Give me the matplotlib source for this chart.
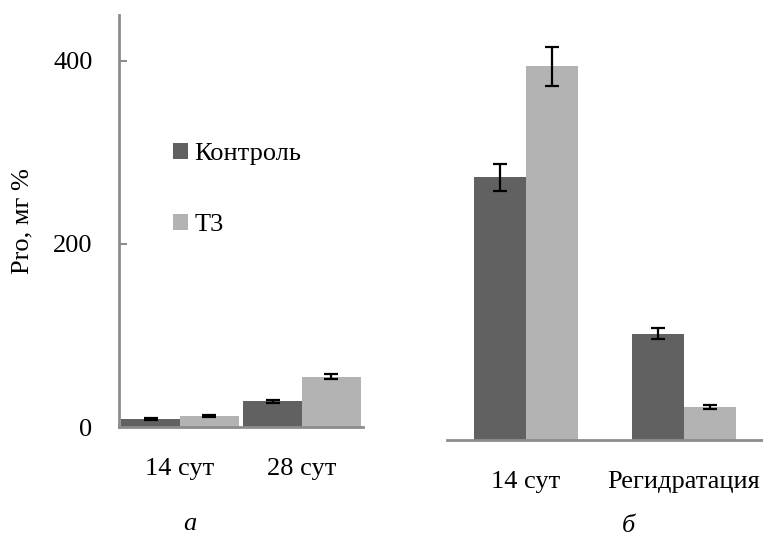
import matplotlib.pyplot as plt
import numpy as np

plt.rcParams["font.family"] = ["Liberation Serif", "DejaVu Serif"]

# panel a
cats_a = ["14 сут", "28 сут"]
control_a = [9, 28]
control_a_err = [1, 2]
t3_a = [12, 55]
t3_a_err = [1, 3]

# panel b
cats_b = ["14 сут", "Регидратация"]
control_b = [287, 116]
control_b_err = [15, 6]
t3_b = [408, 36]
t3_b_err = [21, 2]

yticks = [0, 200, 400]
series_labels = ["Контроль", "T3"]

DARK = "#616161"
LIGHT = "#b3b3b3"
SPINE = "#8c8c8c"
FS = 19

fig = plt.figure(figsize=(7.63, 5.37), dpi=100)
ax_a = fig.add_axes([119 / 763, 110 / 537, 244 / 763, 412 / 537])
ax_b = fig.add_axes([447 / 763, 97 / 537, 316 / 763, 412 / 537])

err_kw = dict(ecolor="black", elinewidth=1.6, capsize=5, capthick=1.6)


def draw_bars(ax, cats, c_vals, c_err, t_vals, t_err, width):
    x = np.arange(len(cats))
    ax.bar(x - width / 2, c_vals, width, yerr=c_err, color=DARK, error_kw=err_kw,
           label=series_labels[0], zorder=2)
    ax.bar(x + width / 2, t_vals, width, yerr=t_err, color=LIGHT, error_kw=err_kw,
           label=series_labels[1], zorder=2)
    ax.set_xlim(-0.5, len(cats) - 0.5)
    ax.set_ylim(0, 450)
    ax.set_xticks(x)
    ax.set_xticklabels(cats, fontsize=FS)
    ax.tick_params(axis="x", length=0, pad=22)
    for side in ["top", "right"]:
        ax.spines[side].set_visible(False)
    ax.spines["bottom"].set_color(SPINE)
    ax.spines["bottom"].set_linewidth(2)
    ax.spines["left"].set_color(SPINE)
    ax.spines["left"].set_linewidth(2)


draw_bars(ax_a, cats_a, control_a, control_a_err, t3_a, t3_a_err, 0.48)
draw_bars(ax_b, cats_b, control_b, control_b_err, t3_b, t3_b_err, 0.33)

ax_a.set_yticks(yticks)
ax_a.set_yticklabels([str(v) for v in yticks], fontsize=FS)
ax_a.tick_params(axis="y", direction="in", length=6, width=1.5, color=SPINE, pad=19)
ax_a.set_ylabel("Pro, мг %", fontsize=FS, labelpad=14)

ax_b.spines["left"].set_visible(False)
ax_b.set_yticks([])

ax_a.legend(loc="upper left", bbox_to_anchor=(0.123, 0.748), frameon=False, fontsize=FS,
            handlelength=0.58, handleheight=0.58, handletextpad=0.25, labelspacing=1.85)

fig.text(190 / 763, 1 - 524 / 537, "а", fontsize=FS, style="italic", ha="center", va="center")
fig.text(628 / 763, 1 - 526 / 537, "б", fontsize=FS, style="italic", ha="center", va="center")

fig.savefig("out.png", dpi=100)
